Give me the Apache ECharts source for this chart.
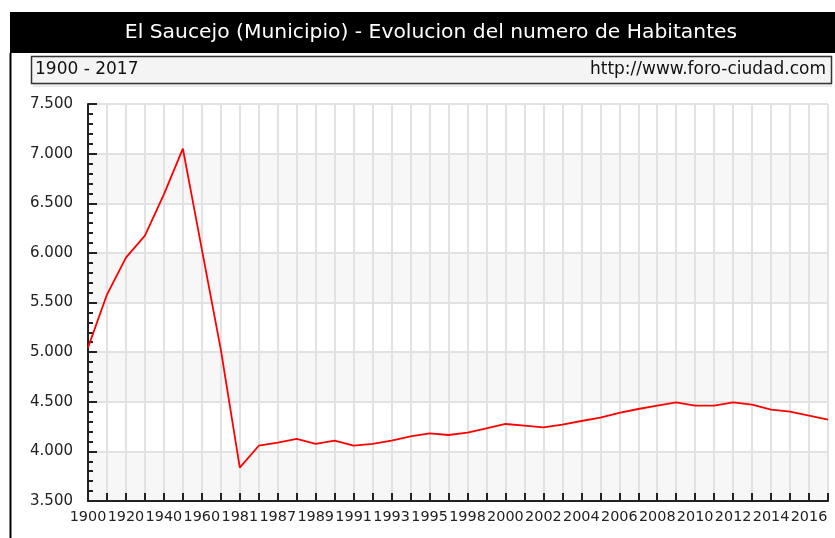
<!DOCTYPE html>
<html><head><meta charset="utf-8">
<script src="https://cdn.jsdelivr.net/npm/echarts@6/dist/echarts.min.js"></script>
<style>html,body{margin:0;padding:0;background:#fff}#c{width:835px;height:538px}</style>
</head><body><div id="c"></div><script>
const titleText = 'El Saucejo (Municipio) - Evolucion del numero de Habitantes';
const rangeText = '1900 - 2017';
const sourceText = 'http://www.foro-ciudad.com';
const years = ['1900','1910','1920','1930','1940','1950','1960','1970','1981','1986','1987','1988','1989','1990','1991','1992','1993','1994','1995','1996','1998','1999','2000','2001','2002','2003','2004','2005','2006','2007','2008','2009','2010','2011','2012','2013','2014','2015','2016','2017'];
const population = [5045,5580,5952,6174,6590,7050,6035,5025,3836,4057,4088,4125,4075,4108,4057,4075,4108,4151,4181,4165,4188,4232,4276,4259,4242,4269,4306,4340,4387,4427,4461,4494,4461,4461,4494,4471,4420,4400,4360,4320];
const yMin = 3500, yMax = 7500, yStep = 500;

const fontFam = '"DejaVu Sans", Verdana, sans-serif';
const chart = echarts.init(document.getElementById('c'), null, {renderer:'canvas'});
chart.setOption({
  animation: false,
  backgroundColor: '#ffffff',
  grid: {left: 88, top: 104, width: 740, height: 397, containLabel: false, outerBoundsMode: 'none'},
  graphic: [
    {type:'rect', shape:{x:10, y:12, width:825, height:41}, style:{fill:'#000'}},
    {type:'text', x:431, y:33, style:{text:titleText, fill:'#fff', font:'20.3px ' + fontFam, textAlign:'center', textVerticalAlign:'middle'}},
    {type:'rect', shape:{x:33, y:84, width:799, height:3}, style:{fill:'#ececec'}},
    {type:'rect', shape:{x:31.5, y:56.5, width:800, height:27}, style:{fill:'#f4f4f4', stroke:'#333', lineWidth:1.5}},
    {type:'text', x:35, y:70, style:{text:rangeText, fill:'#111', font:'17px ' + fontFam, textAlign:'left', textVerticalAlign:'middle'}},
    {type:'text', x:826, y:70, style:{text:sourceText, fill:'#111', font:'17px ' + fontFam, textAlign:'right', textVerticalAlign:'middle'}},
    {type:'line', shape:{x1:10.5, y1:53, x2:10.5, y2:538}, style:{stroke:'#000', lineWidth:2}}
  ],
  xAxis: {
    type: 'category', data: years, boundaryGap: false,
    axisLine: {show:true, lineStyle:{color:'#222', width:2}},
    axisTick: {show:true, inside:true, length:8, interval:0, lineStyle:{color:'#222', width:2}},
    axisLabel: {interval:1, color:'#222', fontSize:14.4, fontFamily:'DejaVu Sans', margin:9, hideOverlap:false},
    splitLine: {show:true, interval:0, lineStyle:{color:'#e2e2e2', width:2}}
  },
  yAxis: {
    type: 'value', min: yMin, max: yMax, interval: yStep,
    axisLine: {show:true, lineStyle:{color:'#222', width:2}},
    axisTick: {show:true, inside:true, length:9, lineStyle:{color:'#222', width:2}},
    minorTick: {show:true, splitNumber:5, length:5, lineStyle:{color:'#222', width:2}},
    axisLabel: {color:'#222', fontSize:15, fontFamily:'DejaVu Sans', margin:15,
      showMinLabel:true, showMaxLabel:true,
      formatter: v => String(v).replace(/\B(?=(\d{3})+(?!\d))/g, '.')},
    splitLine: {show:true, lineStyle:{color:'#e2e2e2', width:2}},
    splitArea: {show:true, areaStyle:{color:['#f7f7f7','#ffffff']}}
  },
  series: [{
    type: 'line', data: population, showSymbol: false, symbol: 'none',
    lineStyle: {color:'#ff0000', width:1.8}, itemStyle:{color:'#ff0000'}
  }]
});
</script></body></html>
